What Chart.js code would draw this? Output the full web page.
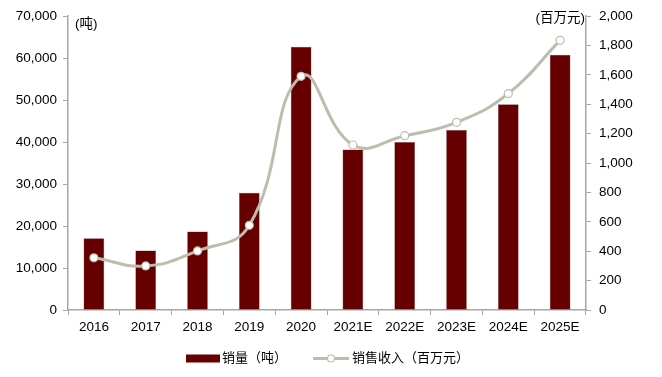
<!DOCTYPE html>
<html>
<head>
<meta charset="utf-8">
<script src="https://cdn.jsdelivr.net/npm/chart.js@4/dist/chart.umd.min.js"></script>
<style>
  html, body { margin: 0; padding: 0; background: #fff; }
  #wrap { width: 662px; height: 377px; }
</style>
</head>
<body>
<div id="wrap"><canvas id="chart" width="662" height="377"></canvas></div>
<script>
const years = ['2016', '2017', '2018', '2019', '2020', '2021E', '2022E', '2023E', '2024E', '2025E'];
const salesVolume = [17100, 14200, 18700, 27900, 62700, 38200, 40000, 42900, 49000, 60800];
const salesRevenue = [355, 300, 402, 576, 1590, 1123, 1186, 1277, 1473, 1835];
const leftTicks = [0, 10000, 20000, 30000, 40000, 50000, 60000, 70000];
const rightTicks = [0, 200, 400, 600, 800, 1000, 1200, 1400, 1600, 1800, 2000];

const barColor = '#660000';
const lineColor = '#BDBDAE';
const axisColor = '#A6A6A6';
const fontFamily = 'Arial, "Liberation Sans", "Noto Sans CJK SC", sans-serif';

// units above the axes plus a hand-placed legend under the x axis
const annotations = {
    id: 'annotations',
    afterDraw(chart) {
        const { ctx, chartArea } = chart;
        const ds = chart.data.datasets;
        ctx.save();
        ctx.fillStyle = '#000';
        ctx.font = '13.5px ' + fontFamily;
        ctx.textBaseline = 'middle';
        ctx.textAlign = 'left';
        ctx.fillText('(吨)', chartArea.left + 7, 24);
        ctx.textAlign = 'right';
        ctx.fillText('(百万元)', chartArea.right - 1, 18);

        const ly = 358.5;
        ctx.font = '13px ' + fontFamily;
        ctx.textAlign = 'left';
        ctx.fillStyle = barColor;
        ctx.fillRect(186, ly - 4, 34, 8);
        ctx.fillStyle = '#000';
        ctx.fillText(ds[1].label, 222, ly);

        ctx.strokeStyle = lineColor;
        ctx.lineWidth = 3;
        ctx.beginPath(); ctx.moveTo(313, ly); ctx.lineTo(349, ly); ctx.stroke();
        ctx.fillStyle = '#fff';
        ctx.lineWidth = 1.2;
        ctx.beginPath(); ctx.arc(331, ly, 3.5, 0, Math.PI * 2); ctx.fill(); ctx.stroke();
        ctx.fillStyle = '#000';
        ctx.fillText(ds[0].label, 352, ly);
        ctx.restore();
    }
};

Chart.defaults.font.family = fontFamily;
Chart.defaults.font.size = 13.5;
Chart.defaults.color = '#000';

new Chart(document.getElementById('chart'), {
    type: 'bar',
    data: {
        labels: years,
        datasets: [
            {
                type: 'line',
                label: '销售收入（百万元）',
                data: salesRevenue,
                yAxisID: 'y1',
                borderColor: lineColor,
                borderWidth: 3,
                tension: 0.45,
                pointRadius: 4,
                pointBackgroundColor: '#fff',
                pointBorderColor: lineColor,
                pointBorderWidth: 1.2,
                pointStyle: 'circle',
                order: 0
            },
            {
                type: 'bar',
                label: '销量（吨）',
                data: salesVolume,
                yAxisID: 'y',
                backgroundColor: barColor,
                borderColor: '#8a5a5a',
                borderWidth: 0.5,
                barPercentage: 0.4,
                categoryPercentage: 1.0,
                order: 1
            }
        ]
    },
    options: {
        responsive: false,
        animation: false,
        layout: { padding: { top: 15, left: 0, right: 0, bottom: 37 } },
        plugins: {
            tooltip: { enabled: false },
            legend: { display: false }
        },
        scales: {
            x: {
                offset: true,
                grid: {
                    display: true,
                    offset: true,
                    drawOnChartArea: false,
                    drawTicks: true,
                    tickLength: 5,
                    color: axisColor
                },
                border: { display: true, color: axisColor, width: 1.5 },
                ticks: { padding: 4, maxRotation: 0, color: '#000' },
                afterFit(scale) { scale.height = 30; }
            },
            y: {
                position: 'left',
                min: 0,
                max: 70000,
                afterBuildTicks(scale) { scale.ticks = leftTicks.map(v => ({ value: v })); },
                ticks: {
                    padding: 6,
                    color: '#000',
                    callback: v => v.toLocaleString('en-US')
                },
                grid: {
                    drawOnChartArea: false,
                    drawTicks: true,
                    tickLength: 5,
                    color: axisColor
                },
                border: { display: true, color: axisColor, width: 1.5 },
                afterFit(scale) { scale.width = 68; }
            },
            y1: {
                position: 'right',
                min: 0,
                max: 2000,
                afterBuildTicks(scale) { scale.ticks = rightTicks.map(v => ({ value: v })); },
                ticks: {
                    padding: 8,
                    color: '#000',
                    callback: v => v.toLocaleString('en-US')
                },
                grid: {
                    drawOnChartArea: false,
                    drawTicks: true,
                    tickLength: 5,
                    color: axisColor
                },
                border: { display: true, color: axisColor, width: 1.5 },
                afterFit(scale) { scale.width = 76; }
            }
        }
    },
    plugins: [annotations]
});
</script>
</body>
</html>
